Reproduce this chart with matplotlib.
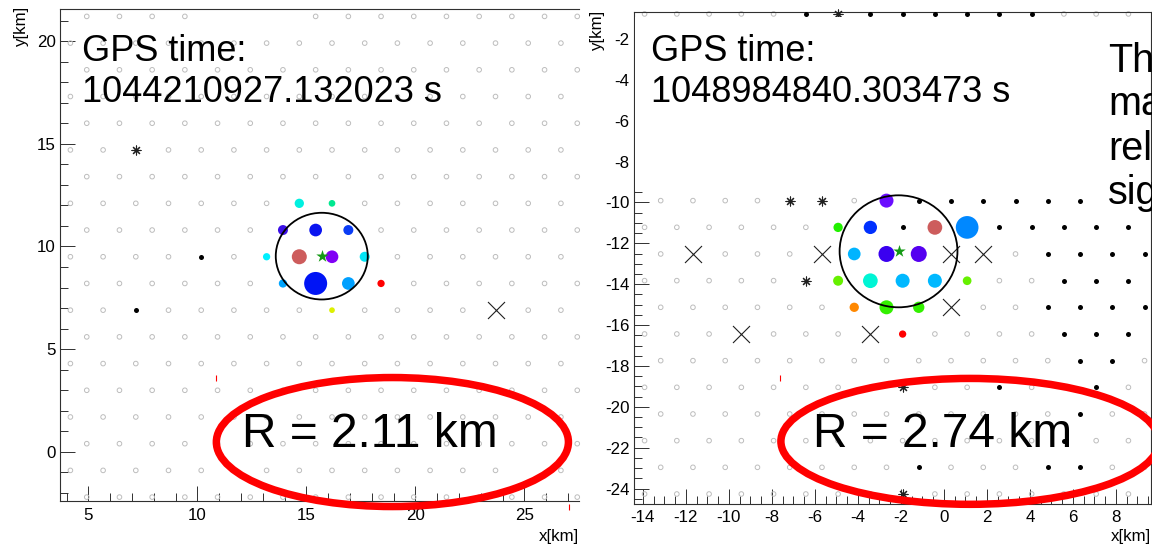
import matplotlib
matplotlib.use("Agg")
import matplotlib.pyplot as plt
from matplotlib.patches import Ellipse, Rectangle
from matplotlib.ticker import MultipleLocator

plt.rcParams['font.family'] = ['Liberation Sans', 'DejaVu Sans']
plt.rcParams['axes.unicode_minus'] = False

W, H, DPI = 1152, 549, 100

# ==========================================
# 1. DATA - left event
# ==========================================
izq_gps = "1044210927.132023 s"
izq_R = 2.11
izq_core = (15.70, 9.53)

# station lattice, one string per row (top row first)
# o = station, k = black dot, * = asterisk, x = cross, - = none / hit
izq_fila_top = 9
izq_fila_y0 = 9.50
izq_fila_dy = 1.30
izq_x_par = 4.17
izq_x_impar = 4.92
izq_filas = [
    "oooo---ooooooooo",
    "oooooooooooooooo",
    "oooooooooooooooo",
    "oooooooooooooooo",
    "oooooooooooooooo",
    "oo*ooooooooooooo",
    "oooooooooooooooo",
    "ooooooo--ooooooo",
    "oooooo---ooooooo",
    "ooooko----oooooo",
    "oooooo----oooooo",
    "ookooooo-ooooxoo",
    "oooooooooooooooo",
    "oooooooooooooooo",
    "oooooooooooooooo",
    "oooooooooooooooo",
    "oooooooooooooooo",
    "ooooo-oooooooo-o",
    "oooooooooooooooo",
]

# triggered stations: x, y [km], marker size, colour (arrival time)
izq_hit_x = [14.67, 16.17, 13.92, 15.42, 16.92, 13.17, 14.67, 16.17, 17.67, 13.92, 15.42, 16.92, 18.42, 16.17]
izq_hit_y = [12.10, 12.10, 10.80, 10.80, 10.80, 9.50, 9.50, 9.50, 9.50, 8.20, 8.20, 8.20, 8.20, 6.90]
izq_hit_d = [9.3, 6.7, 10, 12.7, 10, 7.3, 15, 12.7, 10, 8.3, 23, 12.7, 7.3, 5.7]
izq_hit_c = ['#00f0e0', '#00e890', '#3c10e6', '#0a14f0', '#0a3cf5', '#00f0ff', '#cd5c5c',
             '#8000f5', '#00e5f5', '#00a5ff', '#0014f5', '#00a0ff', '#ff0000', '#ddf000']
izq_rojo_x = [10.87, 27.06]
izq_rojo_y = [3.62, -2.66]

# ==========================================
# 2. DATA - right event
# ==========================================
der_gps = "1048984840.303473 s"
der_R = 2.74
der_core = (-2.11, -12.39)

der_fila_y0 = -9.91
der_fila_dy = 1.305
der_x_par = -13.17
der_x_impar = -13.92
der_filas = {
    7: "oooook*kkkkkkooo",
    0: "oooo**o-kkkkkkkk",
    -1: "oooooo--k--kkkkk",
    -2: "oxooox---xxokkkk",
    -3: "ooooo*-----ookkk",
    -4: "oooooo---xookkkk",
    -5: "oooxooox-ooookkk",
    -6: "oooooooooooookko",
    -7: "oooooooo*ookooko",
    -8: "oooooooooooookoo",
    -9: "oooooooooooookoo",
    -10: "ooooooookoookkoo",
    -11: "oooooooo*ooooooo",
}

der_hit_x = [-2.67, -4.92, -3.42, -0.42, 1.08, -4.17, -2.67, -1.17,
             -4.92, -3.42, -1.92, -0.42, 1.08, -4.17, -2.67, -1.17, -1.92]
der_hit_y = [-9.91, -11.22, -11.22, -11.22, -11.22, -12.52, -12.52, -12.52,
             -13.83, -13.83, -13.83, -13.83, -13.83, -15.13, -15.13, -15.13, -16.44]
der_hit_d = [14, 9.3, 13.3, 14.7, 22.7, 12.7, 16, 16, 10, 14.7, 14, 14, 8.7, 9.3, 14, 11.3, 7.3]
der_hit_c = ['#6a0dff', '#22f000', '#0030ff', '#cd5c5c', '#0088ff', '#00b4ff', '#3a00f0', '#5500f0',
             '#66f000', '#00f5d5', '#00b8ff', '#00b8ff', '#66f000', '#ff8800', '#33f000', '#33f000', '#ff0000']
der_rojo_x = [-7.60]
der_rojo_y = [-18.59]

# ==========================================
# 3. FIGURE
# ==========================================
fig = plt.figure(figsize=(W / DPI, H / DPI), dpi=DPI)
fig.patch.set_facecolor('white')

def px_rect(x0, y0, x1, y1):
    return [x0 / W, 1 - y1 / H, (x1 - x0) / W, (y1 - y0) / H]

ax_izq = fig.add_axes(px_rect(59.5, 8.8, 579, 501))
ax_der = fig.add_axes(px_rect(633.6, 12.3, 1151, 503.5))

ax_izq.set_xlim(3.67, 27.5)
ax_izq.set_ylim(-2.39, 21.57)
ax_der.set_xlim(-14.43, 9.63)
ax_der.set_ylim(-24.73, -0.695)

paneles = [
    (ax_izq, [(izq_fila_top - i, f) for i, f in enumerate(izq_filas)], izq_fila_y0, izq_fila_dy,
     izq_x_par, izq_x_impar, izq_hit_x, izq_hit_y, izq_hit_d, izq_hit_c, izq_R, izq_core,
     izq_rojo_x, izq_rojo_y, 5, 1),
    (ax_der, list(der_filas.items()), der_fila_y0, der_fila_dy,
     der_x_par, der_x_impar, der_hit_x, der_hit_y, der_hit_d, der_hit_c, der_R, der_core,
     der_rojo_x, der_rojo_y, 2, 0.5),
]

PT = 72 / DPI  # points per pixel

for (ax, filas, y0, dy, xp, xi, hx, hy, hd, hc, R, core, rx, ry, mayor, menor) in paneles:
    pos = {'o': ([], []), 'k': ([], []), '*': ([], []), 'x': ([], [])}
    for n, fila in filas:
        x0 = xp if n % 2 == 0 else xi
        for j, ch in enumerate(fila):
            if ch in pos:
                pos[ch][0].append(x0 + 1.5 * j)
                pos[ch][1].append(y0 + dy * n)

    ax.scatter(*pos['o'], s=(4.6 * PT) ** 2, facecolors='none', edgecolors='#bdbdbd',
               linewidths=0.7, zorder=2, clip_on=False)
    ax.scatter(*pos['k'], s=(5.0 * PT) ** 2, color='black', linewidths=0, zorder=3, clip_on=False)
    ax.scatter(*pos['*'], s=(9 * PT) ** 2, marker=(8, 2, 0), color='#202020',
               linewidths=0.8, zorder=3, clip_on=False)
    ax.scatter(*pos['x'], s=(17 * PT) ** 2, marker='x', color='#202020',
               linewidths=0.8, zorder=3, clip_on=False)
    ax.scatter(hx, hy, s=[(d * PT) ** 2 for d in hd], c=hc, linewidths=0, zorder=4)
    ax.scatter(rx, ry, s=(6 * PT) ** 2, marker='|', color='red', linewidths=0.8,
               zorder=4, clip_on=False)

    ax.add_patch(Ellipse(core, 2 * R, 2 * R, fill=False, edgecolor='black', linewidth=1.3, zorder=5))
    ax.scatter([core[0]], [core[1]], s=(13 * PT) ** 2, marker='*', color='#159a15',
               linewidths=0, zorder=6)

    ax.xaxis.set_major_locator(MultipleLocator(mayor))
    ax.xaxis.set_minor_locator(MultipleLocator(menor))
    ax.yaxis.set_major_locator(MultipleLocator(mayor))
    ax.yaxis.set_minor_locator(MultipleLocator(menor))
    ax.tick_params(which='both', direction='in', top=False, right=False,
                   colors='#303030', width=0.7, labelsize=12.2, labelcolor='black')
    ax.tick_params(which='major', length=10.8)
    ax.tick_params(which='minor', length=5.8)
    ax.tick_params(axis='x', pad=5)
    ax.tick_params(axis='y', pad=2.8)
    for s in ax.spines.values():
        s.set_color('#303030')
        s.set_linewidth(0.8)

ax_izq.spines['right'].set_visible(False)

# red ellipses drawn over the plots
ax_izq.add_patch(Ellipse((18.94, 0.48), 16.15, 6.28, fill=False, edgecolor='#ff0000',
                         linewidth=5.4, zorder=7, clip_on=False))
ax_der.add_patch(Ellipse((1.21, -21.69), 17.58, 6.16, fill=False, edgecolor='#ff0000',
                         linewidth=5.4, zorder=7, clip_on=False))

# white text box covering the top of the right plot
fig.patches.append(Rectangle((635 / W, 1 - 191 / H), (1149 - 635) / W, (191 - 17) / H,
                             transform=fig.transFigure, facecolor='white', edgecolor='none', zorder=1))
fig.patches.append(Rectangle((1100 / W, 1 - 212 / H), (1149 - 1100) / W, (212 - 17) / H,
                             transform=fig.transFigure, facecolor='white', edgecolor='none', zorder=1))

# ==========================================
# 4. TEXTS
# ==========================================
def ftext(x, y, s, **kw):
    fig.text(x / W, 1 - y / H, s, **kw)

for x_gps, x_r, gps, R in [(82, 241.5, izq_gps, izq_R), (651, 813, der_gps, der_R)]:
    ftext(x_gps, 61.4, "GPS time:", fontsize=26, va='baseline', zorder=10)
    ftext(x_gps, 101.8, gps, fontsize=26, va='baseline', zorder=10)
    ftext(x_r, 447.4, f"R = {R:.2f} km", fontsize=34.5, va='baseline', zorder=10)

# text of the slide, cut by the right edge as in the screenshot
for texto, yb in [("Th", 71.7), ("ma", 115), ("rel", 160), ("sig", 204)]:
    ftext(1108, yb, texto, fontsize=28.5, va='baseline', zorder=10)

for x_lab, y_top, x_end in [(22, 7, 579), (598, 11, 1151)]:
    ftext(x_lab, y_top, "y[km]", fontsize=12.2, rotation=90, ha='center', va='top')
    ftext(x_end, 537, "x[km]", fontsize=12.2, ha='right', va='center')

fig.savefig("out.png", dpi=DPI, facecolor='white')
